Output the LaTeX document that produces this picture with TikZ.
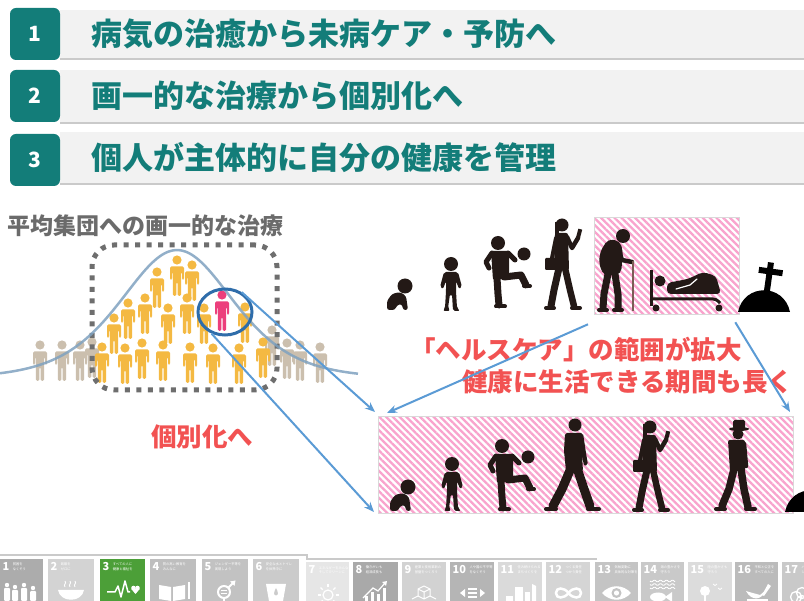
\documentclass[tikz,border=0pt]{standalone}
\usepackage{fontspec}
\setmainfont{Noto Sans}
\newfontfamily\jp{Noto Sans CJK JP}
\usetikzlibrary{arrows.meta,patterns.meta,shapes.geometric}

\definecolor{teal1}{HTML}{137D79}
\definecolor{barbg}{HTML}{F2F2F2}
\definecolor{barline}{HTML}{CACACA}
\definecolor{caption}{HTML}{6B6B6B}
\definecolor{crowd}{HTML}{F4B942}
\definecolor{bystander}{HTML}{CBBFAE}
\definecolor{patient}{HTML}{EC3F7C}
\definecolor{ring}{HTML}{2F6DAA}
\definecolor{bell}{HTML}{7FA2C0}
\definecolor{arrowblue}{HTML}{5B9BD5}
\definecolor{dotgray}{HTML}{6E6E6E}
\definecolor{hatchpink}{HTML}{F9A3CD}
\definecolor{silh}{HTML}{231916}
\definecolor{canebrown}{HTML}{7B5D55}
\definecolor{alert}{HTML}{F25252}
\definecolor{sdgc1}{HTML}{ACACAC}
\definecolor{sdgc2}{HTML}{D3D3D3}
\definecolor{sdgc3}{HTML}{4C9F38}
\definecolor{sdgc4}{HTML}{BEBEBE}
\definecolor{sdgc5}{HTML}{C2C2C2}
\definecolor{sdgc6}{HTML}{CBCBCB}
\definecolor{sdgc7}{HTML}{E6E6E6}
\definecolor{sdgc8}{HTML}{A9A9A9}
\definecolor{sdgc9}{HTML}{D2D2D2}
\definecolor{sdgc10}{HTML}{B5B5B5}
\definecolor{sdgc11}{HTML}{DADADA}
\definecolor{sdgc12}{HTML}{D5D5D5}
\definecolor{sdgc13}{HTML}{C4C4C4}
\definecolor{sdgc14}{HTML}{C9C9C9}
\definecolor{sdgc15}{HTML}{DCDCDC}
\definecolor{sdgc16}{HTML}{BBBBBB}
\definecolor{sdgc17}{HTML}{C9C9C9}

% one SDG tile: name, left, top, width, colour, number, title
\newcommand\sdgtile[7]{%
  \fill[#5] (#2,#3) rectangle (#2+#4,601);
  \node[sdgnum] (#1n) at (#2+2.5,#3+3) {#6};
  \node[sdgtitle] (#1t) at ([xshift=3pt,yshift=-1pt]#1n.north east) {#7};
}

\tikzset{
  human/.pic={
    \path[pic actions] (0,0) circle (4.6);
    \path[pic actions, rounded corners=1.5pt] (-7,6.5) -- (7,6.5) -- (7,20) -- (5,20) -- (5,12)
      -- (4.2,12) -- (4.2,36) -- (0.7,36) -- (0.7,22) -- (-0.7,22) -- (-0.7,36) -- (-4.2,36)
      -- (-4.2,12) -- (-5,12) -- (-5,20) -- (-7,20) -- cycle;
  },
  baby/.pic={
    \fill[silh] (5,-25) circle (7.5);
    \fill[silh, rounded corners=2.5pt] (-13,-1) -- (-13,-10) -- (-8,-17) -- (0,-19) -- (6,-15)
      -- (7,-8) -- (8,-1) -- (3,-1) -- (2,-7) -- (-3,-6) -- (-5,-1) -- cycle;
  },
  child/.pic={
    \fill[silh] (0,-47) circle (7);
    \fill[silh, rounded corners=2pt] (-7,-39) -- (7,-39) -- (11,-24) -- (8,-22) -- (5,-30)
      -- (5,-20) -- (6,-3) -- (9,0) -- (2,0) -- (1,-17) -- (-1,-17) -- (-3,-3) -- (-1,0)
      -- (-8,0) -- (-6,-3) -- (-5,-20) -- (-5,-30) -- (-8,-22) -- (-11,-24) -- cycle;
  },
  kicker/.pic={
    \fill[silh] (-2,-65) circle (7);
    \fill[silh, rounded corners=2pt] (-9,-57) -- (9,-57) -- (9,-30) -- (-7,-28) -- cycle;
    \draw[silh, line width=5pt, line cap=round, line join=round] (-8,-55) -- (-14,-46) -- (-11,-40);
    \draw[silh, line width=5pt, line cap=round] (8,-55) -- (15,-48);
    \draw[silh, line width=7pt, line cap=round, line join=round] (-3,-30) -- (-2,-14) -- (-1,-3);
    \draw[silh, line width=4pt, line cap=round] (-4,-1.5) -- (5,-1.5);
    \draw[silh, line width=7pt, line cap=round, line join=round] (4,-31) -- (21,-33) -- (26,-23);
    \draw[silh, line width=4pt, line cap=round] (24,-22) -- (30,-22);
    \fill[silh] (24,-54) circle (6.5);
  },
  walker/.pic={
    \fill[silh] (1,-86) circle (6.5);
    \fill[silh, rounded corners=2pt] (-9,-78) -- (9,-78) -- (12,-58) -- (14,-46) -- (10,-45)
      -- (8,-56) -- (9,-40) -- (-8,-40) -- (-10,-60) -- cycle;
    \draw[silh, line width=9pt, line cap=round, line join=round] (-3,-43) -- (-12,-22) -- (-21,-5);
    \draw[silh, line width=9pt, line cap=round, line join=round] (3,-43) -- (10,-22) -- (16,-5);
    \draw[silh, line width=4pt, line cap=round] (-28,-2) -- (-18,-2);
    \draw[silh, line width=4pt, line cap=round] (14,-2) -- (25,-2);
  },
  phoneman/.pic={
    \fill[silh] (0,-85) circle (6.5);
    \fill[silh] (-7,-88) rectangle (-3,-72);
    \fill[silh, rounded corners=2pt] (-7,-77) -- (6,-77) -- (7,-40) -- (-8,-40) -- cycle;
    \draw[silh, line width=4.5pt, line cap=round, line join=round] (5,-73) -- (10,-62) -- (16,-72);
    \fill[silh, rotate around={-15:(17,-76)}] (15,-81) rectangle (19,-72);
    \draw[silh, line width=4pt, line cap=round] (-6,-72) -- (-10,-52);
    \fill[silh, rounded corners=1pt] (-17,-52) rectangle (-6,-40);
    \draw[silh, line width=7pt, line cap=round, line join=round] (-3,-42) -- (-8,-20) -- (-11,-4);
    \draw[silh, line width=6.5pt, line cap=round, line join=round] (3,-42) -- (8,-20) -- (12,-4);
    \draw[silh, line width=4pt, line cap=round] (-16,-2) -- (-8,-2);
    \draw[silh, line width=4pt, line cap=round] (10,-2) -- (18,-2);
  },
  hatman/.pic={
    \fill[silh] (2,-77) circle (5.5);
    \fill[silh] (3,-82) ellipse [x radius=10, y radius=2];
    \fill[silh, rounded corners=1.5pt] (-3,-91) rectangle (9,-82);
    \fill[silh, rounded corners=2pt] (-8,-71) -- (9,-71) -- (9,-40) -- (-6,-40) -- cycle;
    \draw[silh, line width=4.5pt, line cap=round] (8,-67) -- (10,-45);
    \draw[silh, line width=7.5pt, line cap=round, line join=round] (-2,-42) -- (-7,-22) -- (-14,-5);
    \draw[silh, line width=7.5pt, line cap=round, line join=round] (5,-42) -- (8,-22) -- (12,-4);
    \draw[silh, line width=4pt, line cap=round] (-20,-2) -- (-11,-2);
    \draw[silh, line width=4pt, line cap=round] (10,-2) -- (19,-2);
  },
  oldman/.pic={
    \fill[silh] (11,-76) circle (7);
    \fill[silh, rounded corners=5pt] (-12,-60) -- (-4,-73) -- (8,-71) -- (11,-60) -- (9,-38)
      -- (-8,-36) -- (-13,-48) -- cycle;
    \draw[silh, line width=4.5pt, line cap=round, line join=round] (6,-64) -- (10,-52) -- (20,-50);
    \draw[canebrown, line width=2.2pt] (21,-51) -- (21,-1);
    \draw[silh, line width=7pt, line cap=round, line join=round] (-4,-38) -- (-8,-18) -- (-9,-4);
    \draw[silh, line width=7pt, line cap=round, line join=round] (3,-38) -- (6,-18) -- (6,-4);
    \draw[silh, line width=4pt, line cap=round] (-13,-2) -- (-5,-2);
    \draw[silh, line width=4pt, line cap=round] (2,-2) -- (10,-2);
  },
  grave/.pic={
    \fill[black] (-26,0) .. controls (-20,-29) and (20,-29) .. (26,0) -- cycle;
    \fill[black, rotate=-8] (-3,-50) rectangle (3,-18);
    \fill[black, rotate=-8] (-11,-44) rectangle (13,-38);
  },
}

\begin{document}
\begin{tikzpicture}[x=1pt, y=-1pt,
  badge/.style={fill=teal1, rounded corners=6pt, minimum width=50pt, minimum height=52pt,
    inner sep=0pt, text=white, font=\jp\bfseries\fontsize{21}{21}\selectfont},
  headline/.style={text=teal1, inner sep=0pt, anchor=west,
    font=\jp\bfseries\fontsize{31}{32}\selectfont},
  caption/.style={text=caption, inner sep=0pt, anchor=west,
    font=\jp\bfseries\fontsize{23}{24}\selectfont},
  alerttext/.style={text=alert, inner sep=0pt, anchor=west,
    font=\jp\bfseries\fontsize{25.5}{27}\selectfont},
  hatchbox/.style={draw=black!15, line width=0.6pt, inner sep=0pt, anchor=north west,
    pattern={Lines[angle=-45, distance=4.8pt, line width=2.3pt]}, pattern color=hatchpink},
  crowdframe/.style={draw=dotgray, line width=5pt, dash pattern=on 5pt off 6.5pt,
    rounded corners=22pt, inner sep=0pt},
  arrowline/.style={draw=arrowblue, line width=2pt, -{Stealth[length=10pt, width=8pt]}},
  sdgnum/.style={anchor=north west, inner sep=0pt, text=white,
    font=\jp\bfseries\fontsize{11}{11}\selectfont},
  sdgtitle/.style={anchor=north west, inner sep=0pt, text=white, align=left,
    font=\jp\fontsize{3.3}{4.2}\selectfont},
]
\useasboundingbox (0,0) rectangle (804,601);
\fill[white] (0,0) rectangle (804,601);

% ---------- three headline bars ----------
\fill[barbg] (60,10) rectangle (804,59);
\draw[barline, line width=1.5pt] (60,59) -- (804,59);
\node[badge] (badge1) at (35,34) {1};
\node[headline] (head1) at (91,34) {病気の治癒から未病ケア・予防へ};

\fill[barbg] (60,70) rectangle (804,123);
\draw[barline, line width=1.5pt] (60,123) -- (804,123);
\node[badge] (badge2) at (35,96) {2};
\node[headline] (head2) at (91,96) {画一的な治療から個別化へ};

\fill[barbg] (60,132) rectangle (804,184);
\draw[barline, line width=1.5pt] (60,184) -- (804,184);
\node[badge] (badge3) at (35,160) {3};
\node[headline] (head3) at (91,158) {個人が主体的に自分の健康を管理};

% ---------- population treated uniformly ----------
\node[caption] (avgcap) at (7,226) {平均集団への画一的な治療};

\foreach \p in {(40,345),(62,345),(80,345),(92,342),(272,330),(287,343),(300,345),(320,347)}
  \pic[fill=bystander] at \p {human};
\foreach \p in {(177,260),(192,265),(157,272),(145,298),(128,303),(168,308),(187,298),(204,308),
  (114,318),(245,307),(102,347),(125,348),(142,343),(163,345),(190,347),(213,348),(239,348),(263,342)}
  \pic[fill=crowd] at \p {human};
\pic[fill=patient] at (222,295) {human};

\node[crowdframe, minimum width=185pt, minimum height=145pt] (frame) at (184.5,317.5) {};
\draw[bell, line width=2.5pt, opacity=0.85] plot[domain=0:358, samples=90, smooth]
  (\x, {378-128/(cosh((\x-177)/76)*cosh((\x-177)/76))});
\node[draw=ring, line width=3pt, ellipse, minimum width=54pt, minimum height=46pt, inner sep=0pt]
  (focus) at (225,312) {};

\node[alerttext] (indiv) at (151,437) {個別化へ};

% ---------- life course, upper row ----------
\node[hatchbox, minimum width=145pt, minimum height=97pt] (elderbox) at (593,216) {};
\pic at (400,311) {baby};
\pic at (451,311) {child};
\pic at (500,308) {kicker};
\pic at (562,310) {phoneman};
\pic at (612,312) {oldman};
% hospital bed with patient
\draw[silh, line width=3pt] (651,270) -- (651,306);
\draw[silh, line width=3pt, rounded corners=3pt] (651,299) -- (716,299) -- (720,303);
\fill[silh] (656,308) circle (3.5);
\fill[silh] (719,308) circle (3.5);
\fill[silh] (660,281) circle (5.5);
\fill[silh, rounded corners=4pt] (667,294) -- (667,283) -- (688,279) -- (703,272) -- (716,276)
  -- (721,294) -- cycle;
\draw[white, line width=1.2pt, line cap=round] (676,289) -- (690,285) -- (697,279);
\pic at (764,312) {grave};

\node[alerttext] (scope1) at (410,350) {「ヘルスケア」の範囲が拡大};
\node[alerttext] (scope2) at (462,382) {健康に生活できる期間も長く};

% ---------- life course, lower row ----------
\node[hatchbox, minimum width=415pt, minimum height=97pt] (lifebox) at (378,416) {};
\pic at (403,512) {baby};
\pic at (452,511) {child};
\pic at (504,511) {kicker};
\pic at (574,511) {walker};
\pic at (650,512) {phoneman};
\pic at (736,511) {hatman};
\begin{scope}
  \clip (770,440) rectangle (804,515);
  \pic at (811,512) {grave};
\end{scope}

% ---------- connectors ----------
\coordinate (tipA) at (375,412);
\coordinate (tipB) at (374,512);
\coordinate (tipC) at (387,413);
\coordinate (tipD) at (790,412);
\draw[arrowline] (focus.50) -- (tipA);
\draw[arrowline] (focus.238) -- (tipB);
\draw[arrowline] ([shift={(-5,9)}]elderbox.south west) -- (tipC);
\draw[arrowline] ([shift={(-5,7)}]elderbox.south east) -- (tipD);

% ---------- SDG strip ----------
\draw[barline, line width=1.2pt] (0,555) -- (307,555) -- (307,559) -- (597,559);
\sdgtile{sdg1}{0}{559}{43}{sdgc1}{1}{貧困を\\なくそう}
\sdgtile{sdg2}{48}{559}{46}{sdgc2}{2}{飢餓を\\ゼロに}
\sdgtile{sdg3}{100}{559}{45}{sdgc3}{3}{すべての人に\\健康と福祉を}
\sdgtile{sdg4}{150}{559}{46}{sdgc4}{4}{質の高い教育を\\みんなに}
\sdgtile{sdg5}{202}{559}{46}{sdgc5}{5}{ジェンダー平等を\\実現しよう}
\sdgtile{sdg6}{253}{559}{46}{sdgc6}{6}{安全な水とトイレ\\を世界中に}
\sdgtile{sdg7}{306}{562}{43}{sdgc7}{7}{エネルギーをみんなに\\そしてクリーンに}
\sdgtile{sdg8}{353}{562}{45}{sdgc8}{8}{働きがいも\\経済成長も}
\sdgtile{sdg9}{402}{562}{44}{sdgc9}{9}{産業と技術革新の\\基盤をつくろう}
\sdgtile{sdg10}{450}{562}{44}{sdgc10}{10}{人や国の不平等\\をなくそう}
\sdgtile{sdg11}{498}{562}{44}{sdgc11}{11}{住み続けられる\\まちづくりを}
\sdgtile{sdg12}{546}{562}{44}{sdgc12}{12}{つくる責任\\つかう責任}
\sdgtile{sdg13}{595}{562}{43}{sdgc13}{13}{気候変動に\\具体的な対策を}
\sdgtile{sdg14}{641}{562}{43}{sdgc14}{14}{海の豊かさを\\守ろう}
\sdgtile{sdg15}{688}{562}{44}{sdgc15}{15}{陸の豊かさも\\守ろう}
\sdgtile{sdg16}{735}{562}{43}{sdgc16}{16}{平和と公正を\\すべての人に}
\begin{scope}
  \clip (782,562) rectangle (804,601);
  \sdgtile{sdg17}{782}{562}{22}{sdgc17}{17}{パートナー\\シップで}
  \begin{scope}[shift={(782,562)}, white, line width=1.3pt]
    \draw (14,35) circle (5.5) (20,31) circle (5.5) (20,39) circle (5.5);
  \end{scope}
\end{scope}

% tile pictograms
\begin{scope}[shift={(0,559)}, white]
  \foreach \gx/\h in {7/1,15/3,24/1,33/4} {
    \fill (\gx,25+\h) circle (2.2);
    \fill[rounded corners=1pt] (\gx-3,28+\h) rectangle (\gx+3,42);
  }
\end{scope}
\begin{scope}[shift={(48,559)}, white]
  \fill (10,31) .. controls (12,44) and (34,44) .. (36,31) -- cycle;
  \foreach \sx in {17,22,27}
    \draw[line width=0.9pt] (\sx,28) .. controls (\sx-2,25.5) and (\sx+2,24.5) .. (\sx,22);
\end{scope}
\begin{scope}[shift={(100,559)}, white]
  \draw[line width=1.5pt, line join=round] (7,33) -- (15,33) -- (18,27) -- (21,38) -- (25,22) -- (28,33) -- (30,33);
  \fill (33.5,29) circle (2.3);
  \fill (37.5,29) circle (2.3);
  \fill (31.3,30) -- (39.7,30) -- (35.5,35) -- cycle;
\end{scope}
\begin{scope}[shift={(150,559)}, white]
  \fill (9,26) -- (21,28) -- (21,42) -- (9,40) -- cycle;
  \fill (23,28) -- (35,26) -- (35,40) -- (23,42) -- cycle;
  \fill (37.5,23) rectangle (39.5,40);
\end{scope}
\begin{scope}[shift={(202,559)}, white]
  \draw[line width=2pt] (22,33) circle (6);
  \draw[line width=1.8pt] (26.5,28.5) -- (31,24);
  \fill (33.5,21.5) -- (28,22.5) -- (32.5,27) -- cycle;
  \draw[line width=1.2pt] (19,31.5) -- (25,31.5) (19,34.5) -- (25,34.5);
  \draw[line width=2pt] (22,39) -- (22,45);
\end{scope}
\begin{scope}[shift={(253,559)}, white]
  \fill (13,25) -- (33,25) -- (30,42) -- (16,42) -- cycle;
  \fill[sdgc6] (23,29) .. controls (21,33) and (20,36) .. (23,36.5) .. controls (26,36) and (25,33) .. (23,29);
\end{scope}
\begin{scope}[shift={(306,562)}, white]
  \draw[line width=1.2pt] (22,33) circle (5);
  \foreach \a in {0,45,...,315}
    \draw[line width=1.2pt] (22,33) ++(\a:7.5) -- ++(\a:3);
\end{scope}
\begin{scope}[shift={(353,562)}, white]
  \fill (12,34) rectangle (15,40);
  \fill (18,30) rectangle (21,40);
  \fill (24,32) rectangle (27,40);
  \fill (30,26) rectangle (33,40);
  \draw[line width=1.2pt] (10,36) -- (20,26) -- (25,29) -- (32,21);
  \fill (34,19) -- (29,20) -- (33,24) -- cycle;
\end{scope}
\begin{scope}[shift={(402,562)}, white, line width=1pt, line join=round]
  \draw (16,27) -- (22,24) -- (28,27) -- (22,30) -- cycle (16,27) -- (16,34) -- (22,37) -- (28,34) -- (28,27) (22,30) -- (22,37);
  \draw (10,37) -- (16,34) (28,34) -- (34,37);
\end{scope}
\begin{scope}[shift={(450,562)}, white]
  \fill (10,31) -- (15,27) -- (15,35) -- cycle;
  \fill (35,31) -- (30,27) -- (30,35) -- cycle;
  \fill (18,26) rectangle (27,28);
  \fill (18,30) rectangle (27,32);
  \fill (18,34) rectangle (27,36);
  \fill (20,39) rectangle (25,41);
\end{scope}
\begin{scope}[shift={(498,562)}, white]
  \fill (8,34) rectangle (15,40);
  \fill (17,25) rectangle (25,40);
  \fill (27,30) rectangle (32,40);
  \fill (34,22) -- (38,24) -- (38,40) -- (34,40) -- cycle;
\end{scope}
\begin{scope}[shift={(546,562)}, white]
  \draw[line width=2.5pt] (22.5,31) .. controls (18,25) and (10,25) .. (10,31) .. controls (10,37) and (18,37) .. (22.5,31)
    .. controls (27,25) and (35,25) .. (35,31) .. controls (35,37) and (27,37) .. (22.5,31);
\end{scope}
\begin{scope}[shift={(595,562)}, white]
  \fill (7,31) .. controls (15,22) and (28,22) .. (36,31) .. controls (28,40) and (15,40) .. (7,31);
  \fill[sdgc13] (21.5,31) circle (5);
  \fill (21.5,31) circle (2.6);
\end{scope}
\begin{scope}[shift={(641,562)}, white]
  \foreach \wy in {19,22.5,26}
    \draw[line width=0.9pt] plot[domain=9:34, samples=26] (\x, {\wy-0.9*sin(\x*60)});
  \fill (17,35) ellipse [x radius=8, y radius=4.5];
  \fill (24,35) -- (31,30) -- (31,40) -- cycle;
\end{scope}
\begin{scope}[shift={(688,562)}, white]
  \fill (17,29) circle (5);
  \fill (16,33) rectangle (18,40);
  \draw[line width=0.8pt] (25,22) -- (27,23.5) -- (29,22) (30,26) -- (32,27.5) -- (34,26);
  \fill (9,39) rectangle (36,40.5);
\end{scope}
\begin{scope}[shift={(735,562)}, white]
  \fill (11,29) .. controls (17,40) and (27,38) .. (31,28) -- (25,33) .. controls (22,32) and (17,31) .. cycle;
  \fill (33,22) -- (36,24) -- (29,34) -- (27,33) -- cycle;
  \fill (12,37) rectangle (33,39);
\end{scope}
\end{tikzpicture}
\end{document}
